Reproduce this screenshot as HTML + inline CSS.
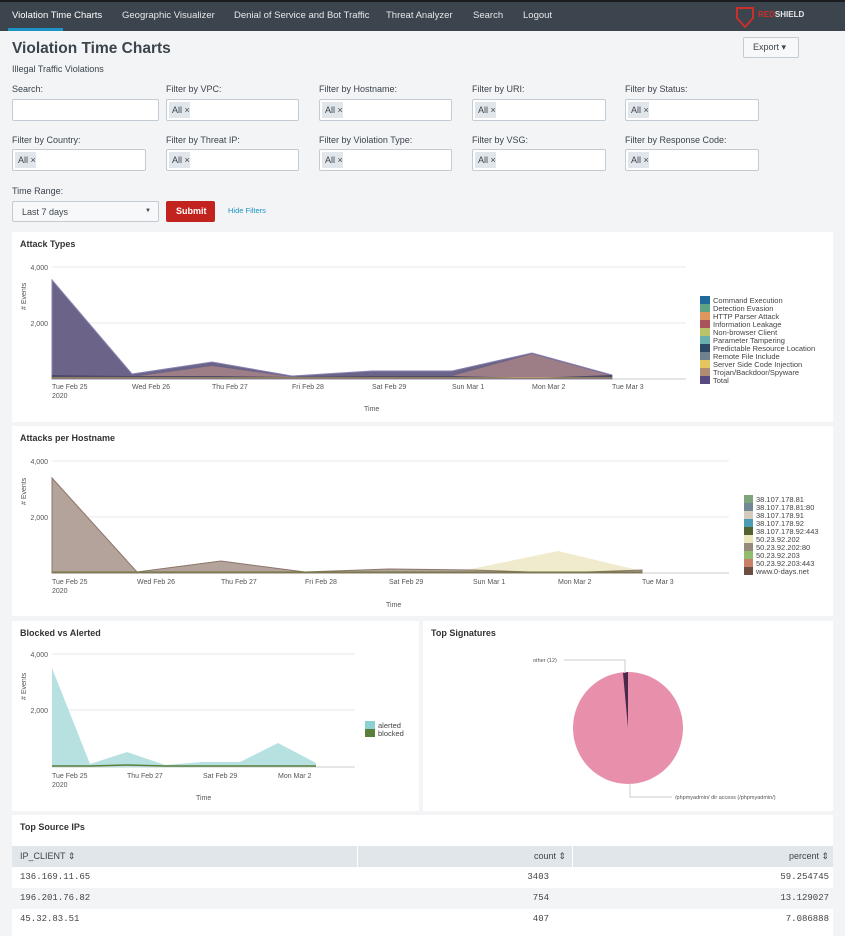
<!DOCTYPE html>
<html><head><meta charset="utf-8"><style>
*{box-sizing:border-box;margin:0;padding:0}
body{width:845px;height:936px;overflow:hidden;background:#f2f4f5;font-family:"Liberation Sans",sans-serif;color:#3c444d;position:relative}
.a{position:absolute}
.nav{left:0;top:0;width:845px;height:31px;background:#3c444d;border-top:2px solid #1a1c20}
.nav span{position:absolute;top:8px;font-size:9.5px;color:#e6e8ea;white-space:nowrap}
.lbl{font-size:9px;color:#3c444d;white-space:nowrap}
.inp{height:22px;background:#fff;border:1px solid #c3cbd4;border-radius:2px}
.tag{position:absolute;left:2px;top:2px;height:16px;width:21px;background:#e1e6eb;font-size:9px;padding:3px 0 0 3px;color:#3c444d;white-space:nowrap;overflow:hidden}
.panel{background:#fff}
.pt{font-size:9px;font-weight:bold;color:#333}
.tk{font-size:7px;fill:#555;font-family:"Liberation Sans",sans-serif}
.lg{font-size:7.5px;fill:#444;font-family:"Liberation Sans",sans-serif}
.mono{font-family:"Liberation Mono",monospace;font-size:9px;color:#444}
</style></head><body>
<div class="a nav">
<span style="left:12px;color:#fff">Violation Time Charts</span>
<div class="a" style="left:8px;top:26px;height:3px;background:#1e93c6;width:55px"></div>
<span style="left:122px">Geographic Visualizer</span>
<span style="left:234px">Denial of Service and Bot Traffic</span>
<span style="left:386px">Threat Analyzer</span>
<span style="left:473px">Search</span>
<span style="left:523px">Logout</span>
<svg class="a" style="left:735px;top:4px" width="20" height="22"><path d="M2 2h16v10l-8 9-8-9z" fill="none" stroke="#c9302c" stroke-width="2"/></svg>
<span style="left:758px;font-size:8px;font-weight:bold"><b style="color:#c9302c">RED</b>SHIELD</span>
</div>
<div class="a" style="left:12px;top:40px;font-size:15.5px;font-weight:bold;color:#3c444d">Violation Time Charts</div>
<div class="a lbl" style="left:12px;top:64px">Illegal Traffic Violations</div>
<div class="a" style="left:743px;top:37px;width:56px;height:21px;background:#f7f8f9;border:1px solid #c3cbd4;border-radius:2px;font-size:9px;padding:4px 0 0 9px">Export ▾</div>

<div class="a lbl" style="left:12px;top:84px">Search:</div>
<div class="a inp" style="left:12px;top:99px;width:147px"></div>
<div class="a lbl" style="left:166px;top:84px">Filter by VPC:</div>
<div class="a inp" style="left:166px;top:99px;width:133px"><div class="tag">All ×</div></div>
<div class="a lbl" style="left:319px;top:84px">Filter by Hostname:</div>
<div class="a inp" style="left:319px;top:99px;width:133px"><div class="tag">All ×</div></div>
<div class="a lbl" style="left:472px;top:84px">Filter by URI:</div>
<div class="a inp" style="left:472px;top:99px;width:134px"><div class="tag">All ×</div></div>
<div class="a lbl" style="left:625px;top:84px">Filter by Status:</div>
<div class="a inp" style="left:625px;top:99px;width:134px"><div class="tag">All ×</div></div>

<div class="a lbl" style="left:12px;top:135px">Filter by Country:</div>
<div class="a inp" style="left:12px;top:149px;width:134px"><div class="tag">All ×</div></div>
<div class="a lbl" style="left:166px;top:135px">Filter by Threat IP:</div>
<div class="a inp" style="left:166px;top:149px;width:133px"><div class="tag">All ×</div></div>
<div class="a lbl" style="left:319px;top:135px">Filter by Violation Type:</div>
<div class="a inp" style="left:319px;top:149px;width:133px"><div class="tag">All ×</div></div>
<div class="a lbl" style="left:472px;top:135px">Filter by VSG:</div>
<div class="a inp" style="left:472px;top:149px;width:134px"><div class="tag">All ×</div></div>
<div class="a lbl" style="left:625px;top:135px">Filter by Response Code:</div>
<div class="a inp" style="left:625px;top:149px;width:134px"><div class="tag">All ×</div></div>

<div class="a lbl" style="left:12px;top:186px">Time Range:</div>
<div class="a inp" style="left:12px;top:201px;width:147px;height:21px;background:#f7f8f9;font-size:9px;padding:5px 0 0 9px">Last 7 days<span style="position:absolute;right:7px;top:6px;font-size:6px">▼</span></div>
<div class="a" style="left:166px;top:201px;width:49px;height:21px;background:#c3231f;border-radius:2px;color:#fff;font-size:9px;font-weight:bold;padding:5px 0 0 10px">Submit</div>
<div class="a" style="left:228px;top:206px;font-size:7.5px;color:#1e93c6">Hide Filters</div>

<!-- Panel 1 -->
<div class="a panel" style="left:12px;top:232px;width:821px;height:190px"></div>
<div class="a pt" style="left:20px;top:239px">Attack Types</div>
<svg class="a" style="left:0;top:232px" width="845" height="190">
<g transform="translate(0,-232)">
<line x1="52" x2="686" y1="267" y2="267" stroke="#e8eaec"/>
<line x1="52" x2="686" y1="323" y2="323" stroke="#e8eaec"/>
<line x1="52" x2="686" y1="379" y2="379" stroke="#ccc"/>
<text class="tk" x="48" y="270" text-anchor="end">4,000</text>
<text class="tk" x="48" y="326" text-anchor="end">2,000</text>
<text class="tk" x="26" y="310" transform="rotate(-90 26 310)">#  Events</text>
<polygon points="52,280 132,374 212,362 292,376 372,371 452,371 532,353 612,375 612,379 52,379" fill="#6b6488" stroke="#8a82b0"/>
<polygon points="132,379 132,377 212,366 292,377 372,377 452,376 532,354 612,376 612,379" fill="#9e7e86"/>
<polygon points="52,375 132,376 212,376 292,377 372,376 452,376 532,378 612,375 612,379 52,379" fill="#4e4a6a"/>
<line x1="52" x2="612" y1="378" y2="378" stroke="#c9b06a"/>
<text class="tk" x="52" y="389">Tue Feb 25</text><text class="tk" x="52" y="398">2020</text>
<text class="tk" x="132" y="389">Wed Feb 26</text><text class="tk" x="212" y="389">Thu Feb 27</text>
<text class="tk" x="292" y="389">Fri Feb 28</text><text class="tk" x="372" y="389">Sat Feb 29</text>
<text class="tk" x="452" y="389">Sun Mar 1</text><text class="tk" x="532" y="389">Mon Mar 2</text>
<text class="tk" x="612" y="389">Tue Mar 3</text>
<text class="tk" x="364" y="411">Time</text>
<g>
<rect x="700" y="296" width="10" height="8" fill="#1f6a9a"/><text class="lg" x="713" y="303">Command Execution</text>
<rect x="700" y="304" width="10" height="8" fill="#5ea383"/><text class="lg" x="713" y="311">Detection Evasion</text>
<rect x="700" y="312" width="10" height="8" fill="#e0975e"/><text class="lg" x="713" y="319">HTTP Parser Attack</text>
<rect x="700" y="320" width="10" height="8" fill="#a8525a"/><text class="lg" x="713" y="327">Information Leakage</text>
<rect x="700" y="328" width="10" height="8" fill="#b9c46a"/><text class="lg" x="713" y="335">Non-browser Client</text>
<rect x="700" y="336" width="10" height="8" fill="#6aaeb0"/><text class="lg" x="713" y="343">Parameter Tampering</text>
<rect x="700" y="344" width="10" height="8" fill="#2c4866"/><text class="lg" x="713" y="351">Predictable Resource Location</text>
<rect x="700" y="352" width="10" height="8" fill="#6f818f"/><text class="lg" x="713" y="359">Remote File Include</text>
<rect x="700" y="360" width="10" height="8" fill="#e5c55d"/><text class="lg" x="713" y="367">Server Side Code Injection</text>
<rect x="700" y="368" width="10" height="8" fill="#b08d72"/><text class="lg" x="713" y="375">Trojan/Backdoor/Spyware</text>
<rect x="700" y="376" width="10" height="8" fill="#5a4a82"/><text class="lg" x="713" y="383">Total</text>
</g></g></svg>

<!-- Panel 2 -->
<div class="a panel" style="left:12px;top:426px;width:821px;height:190px"></div>
<div class="a pt" style="left:20px;top:433px">Attacks per Hostname</div>
<svg class="a" style="left:0;top:426px" width="845" height="190">
<g transform="translate(0,-426)">
<line x1="52" x2="729" y1="461" y2="461" stroke="#e8eaec"/>
<line x1="52" x2="729" y1="517" y2="517" stroke="#e8eaec"/>
<line x1="52" x2="729" y1="573" y2="573" stroke="#ccc"/>
<text class="tk" x="48" y="464" text-anchor="end">4,000</text>
<text class="tk" x="48" y="520" text-anchor="end">2,000</text>
<text class="tk" x="26" y="505" transform="rotate(-90 26 505)">#  Events</text>
<polygon points="452,573 558,551 642,571 642,573" fill="#efebcc"/>
<polygon points="52,478 137,572 221,561 305,572 389,569 473,570 558,573 642,570 642,573 52,573" fill="#b3a39b" stroke="#8d756a"/>
<line x1="52" x2="642" y1="572" y2="572" stroke="#6a7a3a"/>
<text class="tk" x="52" y="584">Tue Feb 25</text><text class="tk" x="52" y="593">2020</text>
<text class="tk" x="137" y="584">Wed Feb 26</text><text class="tk" x="221" y="584">Thu Feb 27</text>
<text class="tk" x="305" y="584">Fri Feb 28</text><text class="tk" x="389" y="584">Sat Feb 29</text>
<text class="tk" x="473" y="584">Sun Mar 1</text><text class="tk" x="558" y="584">Mon Mar 2</text>
<text class="tk" x="642" y="584">Tue Mar 3</text>
<text class="tk" x="386" y="607">Time</text>
<g>
<rect x="744" y="495" width="9" height="8" fill="#7fa37a"/><text class="lg" x="756" y="502">38.107.178.81</text>
<rect x="744" y="503" width="9" height="8" fill="#738896"/><text class="lg" x="756" y="510">38.107.178.81:80</text>
<rect x="744" y="511" width="9" height="8" fill="#d6cabb"/><text class="lg" x="756" y="518">38.107.178.91</text>
<rect x="744" y="519" width="9" height="8" fill="#4a9db5"/><text class="lg" x="756" y="526">38.107.178.92</text>
<rect x="744" y="527" width="9" height="8" fill="#53622e"/><text class="lg" x="756" y="534">38.107.178.92:443</text>
<rect x="744" y="535" width="9" height="8" fill="#ebe6bd"/><text class="lg" x="756" y="542">50.23.92.202</text>
<rect x="744" y="543" width="9" height="8" fill="#958a7c"/><text class="lg" x="756" y="550">50.23.92.202:80</text>
<rect x="744" y="551" width="9" height="8" fill="#8fbd6d"/><text class="lg" x="756" y="558">50.23.92.203</text>
<rect x="744" y="559" width="9" height="8" fill="#c9806a"/><text class="lg" x="756" y="566">50.23.92.203:443</text>
<rect x="744" y="567" width="9" height="8" fill="#6d4e42"/><text class="lg" x="756" y="574">www.0-days.net</text>
</g></g></svg>

<!-- Panel 3 -->
<div class="a panel" style="left:12px;top:621px;width:407px;height:190px"></div>
<div class="a pt" style="left:20px;top:628px">Blocked vs Alerted</div>
<svg class="a" style="left:0;top:621px" width="420" height="190">
<g transform="translate(0,-621)">
<line x1="52" x2="355" y1="654" y2="654" stroke="#e8eaec"/>
<line x1="52" x2="355" y1="710" y2="710" stroke="#e8eaec"/>
<line x1="52" x2="355" y1="767" y2="767" stroke="#ccc"/>
<text class="tk" x="48" y="657" text-anchor="end">4,000</text>
<text class="tk" x="48" y="713" text-anchor="end">2,000</text>
<text class="tk" x="26" y="700" transform="rotate(-90 26 700)">#  Events</text>
<polygon points="52,668 90,764 127,752 165,765 203,762 240,762 278,743 316,763 316,767 52,767" fill="#b7e1e1"/>
<polyline points="52,766 90,766 127,765 165,766 203,766 240,766 278,766 316,766" fill="none" stroke="#5a7f3a" stroke-width="1.5"/>
<text class="tk" x="52" y="778">Tue Feb 25</text><text class="tk" x="52" y="787">2020</text>
<text class="tk" x="127" y="778">Thu Feb 27</text><text class="tk" x="203" y="778">Sat Feb 29</text>
<text class="tk" x="278" y="778">Mon Mar 2</text>
<text class="tk" x="196" y="800">Time</text>
<rect x="365" y="721" width="10" height="8" fill="#8ed1d2"/><text class="lg" x="378" y="728">alerted</text>
<rect x="365" y="729" width="10" height="8" fill="#5a7f3a"/><text class="lg" x="378" y="736">blocked</text>
</g></svg>

<div class="a panel" style="left:423px;top:621px;width:410px;height:190px"></div>
<div class="a pt" style="left:431px;top:628px">Top Signatures</div>
<svg class="a" style="left:423px;top:621px" width="410" height="190">
<g transform="translate(-423,-621)">
<ellipse cx="628" cy="728" rx="55" ry="56" fill="#e88fac"/>
<path d="M628,728 L623,673 A56,56 0 0,1 628,672 Z" fill="#4a2a4a"/>
<polyline points="564,660 625,660 625,673" fill="none" stroke="#ccc"/>
<text class="tk" x="533" y="662" style="font-size:5.5px">other (12)</text>
<polyline points="630,783 630,797 672,797" fill="none" stroke="#ccc"/>
<text class="tk" x="675" y="799" style="font-size:5.5px">/phpmyadmin/ dir access (/phpmyadmin/)</text>
</g></svg>

<!-- Panel 4 -->
<div class="a panel" style="left:12px;top:815px;width:821px;height:121px"></div>
<div class="a pt" style="left:20px;top:822px">Top Source IPs</div>
<div class="a" style="left:12px;top:846px;width:821px;height:21px;background:#e1e6eb"></div>
<div class="a" style="left:357px;top:846px;width:1px;height:21px;background:#fff"></div>
<div class="a" style="left:572px;top:846px;width:1px;height:21px;background:#fff"></div>
<div class="a lbl" style="left:20px;top:851px">IP_CLIENT ⇕</div>
<div class="a lbl" style="left:480px;top:851px;width:86px;text-align:right">count ⇕</div>
<div class="a lbl" style="left:740px;top:851px;width:89px;text-align:right">percent ⇕</div>
<div class="a" style="left:12px;top:888px;width:821px;height:21px;background:#f2f4f5"></div>
<div class="a mono" style="left:20px;top:872px">136.169.11.65</div>
<div class="a mono" style="left:450px;top:872px;width:99px;text-align:right">3403</div>
<div class="a mono" style="left:700px;top:872px;width:129px;text-align:right">59.254745</div>
<div class="a mono" style="left:20px;top:893px">196.201.76.82</div>
<div class="a mono" style="left:450px;top:893px;width:99px;text-align:right">754</div>
<div class="a mono" style="left:700px;top:893px;width:129px;text-align:right">13.129027</div>
<div class="a mono" style="left:20px;top:914px">45.32.83.51</div>
<div class="a mono" style="left:450px;top:914px;width:99px;text-align:right">407</div>
<div class="a mono" style="left:700px;top:914px;width:129px;text-align:right">7.086888</div>
</body></html>
